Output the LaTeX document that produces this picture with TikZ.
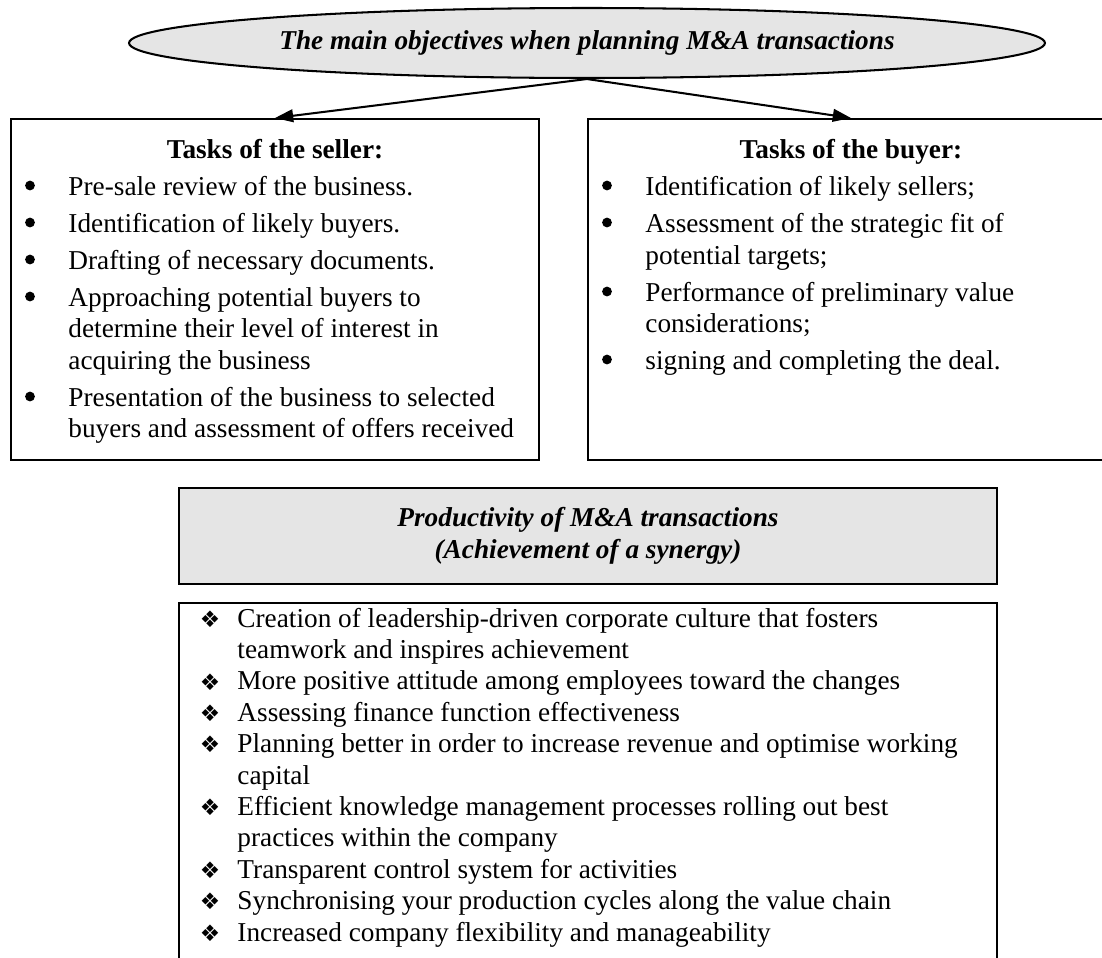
\documentclass[tikz,border=0pt]{standalone}
\usepackage{fontspec}
\setmainfont{Liberation Serif}
\newfontfamily\dingfont{DejaVu Sans}
\usepackage{xcolor}
\usepackage{tikz}
\usetikzlibrary{shapes}
\usetikzlibrary{arrows.meta}
\usetikzlibrary{positioning}
\definecolor{paper}{rgb}{0.9,0.9,0.9}

\begin{document}
\begin{tikzpicture}[x=0.44pt,y=-0.44pt,
  font=\fontsize{12}{13.8}\selectfont,
  box/.style={draw,line width=0.9pt,anchor=north west,inner sep=0pt},
  head/.style={anchor=base,inner sep=0pt,font=\fontsize{12}{13.8}\selectfont\bfseries},
  line/.style={anchor=base west,inner sep=0pt},
  dot/.style={circle,fill,inner sep=0pt,minimum size=4.3pt},
  diam/.style={inner sep=0pt,font=\dingfont\fontsize{10}{12}\selectfont},
  link/.style={line width=0.9pt,-{Triangle[length=8pt,width=5.6pt]}}]

  \useasboundingbox (0,0) rectangle (1102,957);
  \clip (0,0) rectangle (1102,957);

  % top
  \node[ellipse,draw,line width=0.9pt,fill=paper,inner sep=0pt,
    minimum width=403pt,minimum height=30.8pt,
    font=\fontsize{12}{13.8}\selectfont\bfseries\itshape] (goal) at (587,43)
    {The main objectives when planning M\&A transactions};

  \node[box,minimum width=232.3pt,minimum height=150pt] (seller) at (10,118) {};
  \node[box,minimum width=231.4pt,minimum height=150pt] (buyer) at (587,118) {};

  \draw[link] (goal.south) -- (seller.north);
  \draw[link] (goal.south) -- (buyer.north);

  % seller
  \node[head] (sellerhead) at (seller.north |- 0,158) {Tasks of the seller:};
  \foreach \y [count=\i] in {195,232,269,306,406}
    \node[dot] (sdot\i) at (30,\y-9.5) {};
  \foreach \y/\t [count=\i] in {195/{Pre-sale review of the business.},
      232/{Identification of likely buyers.},
      269/{Drafting of necessary documents.},
      306/{Approaching potential buyers to},
      337/{determine their level of interest in},
      369/{acquiring the business},
      406/{Presentation of the business to selected},
      437/{buyers and assessment of offers received}}
    \node[line] (sline\i) at (68,\y) {\t};

  % buyer
  \node[head] (buyerhead) at (buyer.north |- 0,158) {Tasks of the buyer:};
  \foreach \y [count=\i] in {195,232,301,369}
    \node[dot] (bdot\i) at (607,\y-9.5) {};
  \foreach \y/\t [count=\i] in {195/{Identification of likely sellers;},
      232/{Assessment of the strategic fit of},
      264/{potential targets;},
      301/{Performance of preliminary value},
      332/{considerations;},
      369/{signing and completing the deal.}}
    \node[line] (bline\i) at (645,\y) {\t};

  % synergy
  \node[box,fill=paper,minimum width=359.9pt,minimum height=42.2pt,align=center,
    font=\fontsize{12}{13.8}\selectfont\bfseries\itshape] (synergy) at (178,487)
    {Productivity of M\&A transactions\\(Achievement of a synergy)};

  \node[box,minimum width=359.9pt,minimum height=175pt] (gains) at (178,602) {};
  \foreach \n in {1,3,4,5,7,9,10,11}
    \node[diam] (gdot\n) at (210,627+31.4*\n-31.4-8) {❖};
  \foreach \t [count=\i] in {{Creation of leadership-driven corporate culture that fosters},
      {teamwork and inspires achievement},
      {More positive attitude among employees toward the changes},
      {Assessing finance function effectiveness},
      {Planning better in order to increase revenue and optimise working},
      {capital},
      {Efficient knowledge management processes rolling out best},
      {practices within the company},
      {Transparent control system for activities},
      {Synchronising your production cycles along the value chain},
      {Increased company flexibility and manageability}}
    \node[line] (gline\i) at (237,627+31.4*\i-31.4) {\t};

\end{tikzpicture}
\end{document}
